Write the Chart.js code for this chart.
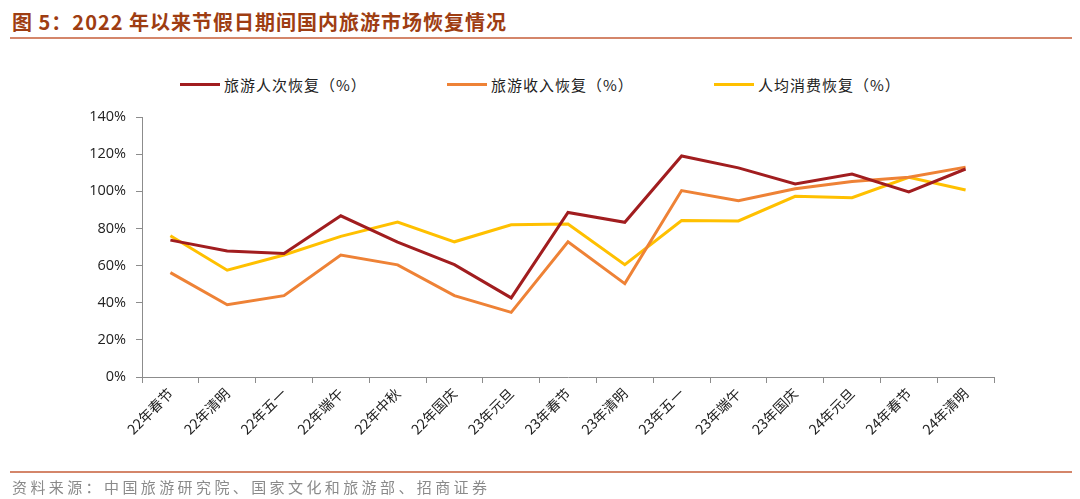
<!DOCTYPE html>
<html>
<head>
<meta charset="utf-8">
<script src="https://cdn.jsdelivr.net/npm/chart.js@4"></script>
<style>
  body { margin: 0; background: #fff; }
  #wrap { position: relative; width: 1080px; height: 499px; overflow: hidden; font-family: "Noto Sans CJK SC", sans-serif; }
  #title { position: absolute; left: 12px; top: 7px; font-size: 20px; font-weight: bold; color: #9e3d12; letter-spacing: 1px; white-space: nowrap; }
  .rule { position: absolute; left: 10px; width: 1062px; height: 2px; background: #d4866a; }
  #source { position: absolute; left: 12px; top: 476px; font-size: 15px; color: #8a8a8a; letter-spacing: 3.4px; white-space: nowrap; }
  .leg { position: absolute; top: 74px; font-size: 15px; color: #222; white-space: nowrap; letter-spacing: 1px; }
  .leg i { display: inline-block; width: 40px; height: 3px; vertical-align: middle; margin-right: 4px; position: relative; top: -2px; }
  canvas { position: absolute; left: 0; top: 0; }
</style>
</head>
<body>
<div id="wrap">
  <div id="title">图 5：2022 年以来节假日期间国内旅游市场恢复情况</div>
  <div class="rule" style="top:37px"></div>
  <div id="legend"></div>
  <canvas id="chart" width="1080" height="499"></canvas>
  <div class="rule" style="top:471px"></div>
  <div id="source">资料来源：中国旅游研究院、国家文化和旅游部、招商证券</div>
</div>
<script>
const categories = ['22年春节', '22年清明', '22年五一', '22年端午', '22年中秋', '22年国庆', '23年元旦', '23年春节',
  '23年清明', '23年五一', '23年端午', '23年国庆', '24年元旦', '24年春节', '24年清明'];
const tripsRecovery = [73.7, 67.8, 66.5, 86.8, 72.6, 60.5, 42.6, 88.6, 83.3, 119.0, 112.6, 104.0, 109.3, 99.7, 112.0];
const revenueRecovery = [56.2, 38.9, 43.8, 65.7, 60.4, 43.8, 34.8, 72.8, 50.3, 100.4, 94.9, 101.4, 105.3, 107.6, 113.0];
const perCapitaRecovery = [76.1, 57.5, 65.7, 75.7, 83.4, 72.8, 82.0, 82.4, 60.5, 84.3, 84.0, 97.3, 96.5, 107.5, 100.7];
const seriesNames = ['旅游人次恢复（%）', '旅游收入恢复（%）', '人均消费恢复（%）'];
const seriesColors = ['#a11d1f', '#ee8236', '#ffc000'];
const legendLeft = [180, 447, 714];

const legendBox = document.getElementById('legend');
seriesNames.forEach((name, i) => {
  const item = document.createElement('div');
  item.className = 'leg';
  item.style.left = legendLeft[i] + 'px';
  item.innerHTML = `<i style="background:${seriesColors[i]}"></i>${name}`;
  legendBox.appendChild(item);
});

const allSeries = [tripsRecovery, revenueRecovery, perCapitaRecovery];

new Chart(document.getElementById('chart').getContext('2d'), {
  type: 'line',
  data: {
    labels: categories,
    datasets: allSeries.map((d, i) => ({
      label: seriesNames[i],
      data: d,
      borderColor: seriesColors[i],
      backgroundColor: seriesColors[i],
      borderWidth: 3,
      pointRadius: 0,
      tension: 0
    }))
  },
  options: {
    responsive: false,
    animation: false,
    layout: { padding: { left: 0, right: 86, top: 117, bottom: 20 } },
    plugins: { legend: { display: false }, tooltip: { enabled: false } },
    scales: {
      x: {
        offset: true,
        afterFit: s => { s.height = 102; },
        grid: { display: true, drawOnChartArea: false, offset: true, tickLength: 6, color: '#8c8c8c' },
        border: { color: '#8c8c8c', width: 1 },
        ticks: {
          minRotation: 45, maxRotation: 45, autoSkip: false, padding: 2,
          color: '#222', font: { family: '"Noto Sans CJK SC", sans-serif', size: 14 }
        }
      },
      y: {
        min: 0, max: 140,
        afterFit: s => { s.width = 142; },
        grid: { display: true, drawOnChartArea: false, tickLength: 6, color: '#8c8c8c' },
        border: { color: '#8c8c8c', width: 1 },
        ticks: {
          stepSize: 20, padding: 10,
          color: '#222', font: { family: '"Open Sans", sans-serif', size: 14.5 },
          callback: v => v + '%'
        }
      }
    }
  }
});
</script>
</body>
</html>
